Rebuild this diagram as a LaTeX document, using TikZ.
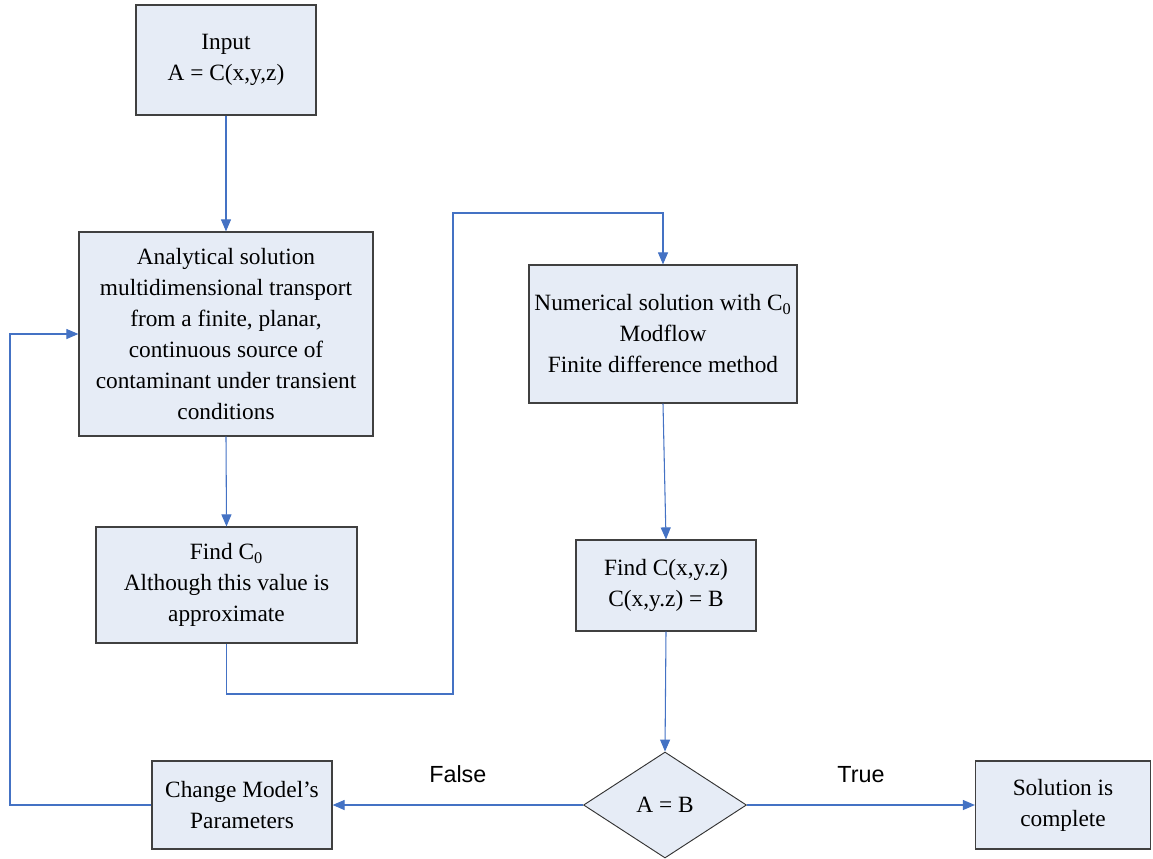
\documentclass[tikz,border=0pt]{standalone}
\usepackage{fontspec}
\setmainfont{Liberation Serif}
\newfontfamily\lsans{Liberation Sans}
\usetikzlibrary{arrows.meta,shapes.geometric}
\definecolor{boxfill}{RGB}{230,236,246}
\definecolor{lineblue}{RGB}{68,114,196}
\tikzset{
  box/.style={draw=black!75, line width=0.9pt, fill=boxfill, align=center, inner sep=2pt,
    font=\fontsize{17.5}{23.25}\selectfont},
  dec/.style={draw=black!80, line width=0.7pt, fill=boxfill, shape=diamond, inner sep=0pt,
    font=\fontsize{17.5}{23.25}\selectfont},
  conn/.style={draw=lineblue, line width=0.8pt, -{Triangle[length=9pt,width=7.5pt]}},
  lbl/.style={font=\lsans\fontsize{17.5}{20}\selectfont}
}
\begin{document}
\begin{tikzpicture}[x=0.75pt,y=-0.75pt]
\useasboundingbox (0,0) rectangle (1153,858);
\node[box, minimum width=135pt, minimum height=82.5pt] (inp) at (226,60) {Input\\A = C(x,y,z)};
\node[box, minimum width=220.5pt, minimum height=153pt] (ana) at (226,334) {Analytical solution\\multidimensional transport\\from a finite, planar,\\continuous  source of\\contaminant under transient\\conditions};
\node[box, minimum width=195.75pt, minimum height=87pt] (c0) at (226.5,585) {Find C\textsubscript{0}\\Although this value is\\approximate};
\node[box, minimum width=201pt, minimum height=103.5pt] (num) at (663,334) {Numerical solution with C\textsubscript{0}\\Modflow\\ Finite difference method};
\node[box, minimum width=135pt, minimum height=68.25pt] (fc) at (666,585.5) {Find C(x,y.z)\\C(x,y.z) = B};
\node[dec, minimum width=122.25pt, minimum height=79.5pt] (dia) at (665,805) {A = B};
\node[box, minimum width=135pt, minimum height=66pt] (chg) at (242,805) {Change Model's\\Parameters};
\node[box, minimum width=131.25pt, minimum height=66pt] (sol) at (1063,805) {Solution is\\complete};
\coordinate (b1) at (453,694);
\coordinate (b2) at (453,213);
\coordinate (lft) at (10,805);
\draw[conn] (inp.south) -- (ana.north);
\draw[conn] (ana.south) -- (c0.north);
\draw[conn] (c0.south) |- (b1) -- (b2) -| (num.north);
\draw[conn] (num.south) -- (fc.north);
\draw[conn] (fc.south) -- (dia.north);
\draw[conn] (dia.west) -- (chg.east) node[lbl, pos=0.5, above=13pt] (fl) {False};
\draw[conn] (dia.east) -- (sol.west) node[lbl, pos=0.5, above=13pt] (tr) {True};
\draw[conn] (chg.west) -- (lft) |- (ana.west);
\end{tikzpicture}
\end{document}
